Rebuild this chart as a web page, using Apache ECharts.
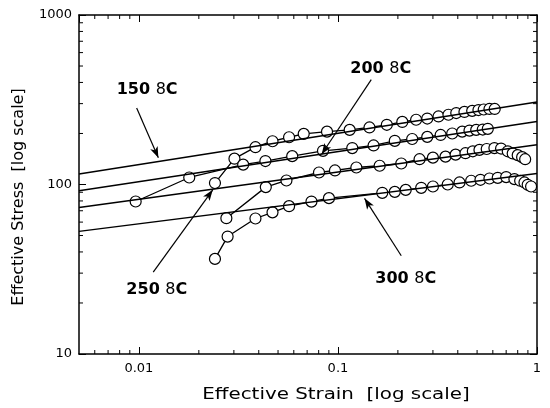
<!DOCTYPE html>
<html>
<head>
<meta charset="utf-8">
<script src="https://cdn.jsdelivr.net/npm/echarts@6/dist/echarts.min.js"></script>
<style>
  html, body { margin: 0; padding: 0; background: #fff; }
  #chart { width: 550px; height: 408px; }
</style>
</head>
<body>
<div id="chart"></div>
<script>
// measured curves, strain vs effective stress
const strain150 = [0.0241, 0.0302, 0.0385, 0.0469, 0.0568, 0.0673, 0.0881, 0.1145, 0.144, 0.176, 0.2105, 0.247, 0.281, 0.32, 0.359, 0.393, 0.432, 0.4725, 0.508, 0.54, 0.577, 0.613]
const stress150 = [102, 142, 166, 180, 190, 199, 205, 210, 217, 225, 234, 241, 245, 252, 258, 264, 268, 272, 275, 277, 279, 279]

const strain200 = [0.00963, 0.0179, 0.0334, 0.0432, 0.0589, 0.0841, 0.118, 0.151, 0.193, 0.236, 0.281, 0.328, 0.375, 0.421, 0.458, 0.495, 0.534, 0.566]
const stress200 = [79.4, 110, 131, 137.5, 147, 158, 164, 170, 181, 185.5, 191, 196, 200, 205, 208, 210, 211, 213]

const strain250 = [0.0275, 0.0434, 0.0551, 0.0803, 0.0966, 0.1237, 0.162, 0.208, 0.257, 0.3, 0.347, 0.39, 0.437, 0.476, 0.514, 0.559, 0.611, 0.66, 0.713, 0.755, 0.8, 0.842, 0.872]
const stress250 = [63.3, 96.5, 105.6, 117.7, 121, 126, 129, 133, 141, 144, 146, 150, 153, 157, 160, 162, 164, 163, 157, 152.5, 149, 145, 141]

const strain300 = [0.0241, 0.0279, 0.0385, 0.0469, 0.0568, 0.0736, 0.0901, 0.167, 0.193, 0.219, 0.262, 0.3, 0.356, 0.408, 0.467, 0.52, 0.577, 0.635, 0.7, 0.77, 0.823, 0.865, 0.898, 0.934]
const stress300 = [36.4, 49.3, 63, 68.5, 74.5, 79.3, 83.1, 89.3, 90.5, 93, 95.6, 97.3, 100, 102.8, 105.2, 106.6, 108.5, 109.5, 110.6, 107.6, 105.2, 102.8, 99.6, 97.3]

// fitted power-law lines (ends of the axis range)
const fitStrain = [0.005, 1]
const fit150 = [115.2, 306.7]
const fit200 = [91.8, 235.6]
const fit250 = [73.1, 171.6]
const fit300 = [52.9, 116.1]

// temperature labels and their arrows (data coords)
const labelNames = ['150', '200', '250', '300']
const labelPos = [[0.011, 363], [0.164, 483], [0.0123, 23.9], [0.219, 27.7]]
const arrowFrom = [[0.00974, 283], [0.147, 416], [0.0118, 30.4], [0.208, 38]]
const arrowTo = [[0.01252, 143.8], [0.0828, 150.8], [0.0235, 93], [0.136, 82.9]]

// minor ticks of the log axes
const xMinor = [0.006, 0.007, 0.008, 0.009, 0.02, 0.03, 0.04, 0.05, 0.06, 0.07, 0.08, 0.09, 0.2, 0.3, 0.4, 0.5, 0.6, 0.7, 0.8, 0.9]
const yMinor = [20, 30, 40, 50, 60, 70, 80, 90, 200, 300, 400, 500, 600, 700, 800, 900]

const zip = (a, b) => a.map((v, i) => [v, b[i]])

const font = 'DejaVu Sans'

function dataSeries(xs, ys) {
  return {
    type: 'line',
    data: zip(xs, ys),
    symbol: 'circle',
    symbolSize: 11,
    color: '#000',
    itemStyle: { color: '#fff', borderColor: '#000', borderWidth: 1.2 },
    lineStyle: { color: '#000', width: 1.3 },
    z: 2,
    silent: true,
    animation: false,
  }
}

function fitSeries(ys, i) {
  return {
    type: 'line',
    data: zip(fitStrain, ys),
    symbol: 'none',
    lineStyle: { color: '#000', width: 1.5 },
    z: 3,
    silent: true,
    animation: false,
    markLine: {
      silent: true,
      symbol: ['none', 'arrow'],
      symbolSize: [6, 11],
      label: { show: false },
      lineStyle: { color: '#000', width: 1.2, type: 'solid' },
      emphasis: { disabled: true },
      animation: false,
      data: [[{ coord: arrowFrom[i] }, { coord: arrowTo[i] }]],
    },
  }
}

const axisBase = {
  type: 'log',
  logBase: 10,
  axisLine: { lineStyle: { color: '#000', width: 1.5 } },
  axisTick: { inside: true, length: 7, lineStyle: { color: '#000', width: 1 } },
  splitLine: { show: false },
  minorTick: { show: false },
}

const options = {
  backgroundColor: '#fff',
  animation: false,
  grid: { left: 79, right: 13, top: 15, bottom: 54 },
  xAxis: [
    {
      ...axisBase,
      min: 0.005,
      max: 1,
      position: 'bottom',
      axisLabel: { color: '#000', fontFamily: font, fontSize: 13, margin: 8, showMinLabel: false, formatter: v => String(v) },
    },
    { ...axisBase, min: 0.005, max: 1, position: 'top', axisLabel: { show: false } },
  ],
  yAxis: [
    {
      ...axisBase,
      min: 10,
      max: 1000,
      position: 'left',
      axisLabel: { color: '#000', fontFamily: font, fontSize: 13, margin: 7, formatter: v => String(v) },
    },
    { ...axisBase, min: 10, max: 1000, position: 'right', axisLabel: { show: false } },
  ],
  series: [
    dataSeries(strain150, stress150),
    dataSeries(strain200, stress200),
    dataSeries(strain250, stress250),
    dataSeries(strain300, stress300),
    fitSeries(fit150, 0),
    fitSeries(fit200, 1),
    fitSeries(fit250, 2),
    fitSeries(fit300, 3),
  ],
}

const chart = echarts.init(document.getElementById('chart'), null, { renderer: 'canvas' })
chart.setOption(options)

const toPx = d => chart.convertToPixel({ xAxisIndex: 0, yAxisIndex: 0 }, d)
const topLeft = toPx([0.005, 1000])
const botRight = toPx([1, 10])
const minorLen = 4
const tickStyle = { stroke: '#000', lineWidth: 1 }

const graphics = []

// minor ticks on all four sides
xMinor.forEach(v => {
  const x = toPx([v, 100])[0]
  graphics.push({ type: 'line', silent: true, z: 10, shape: { x1: x, y1: botRight[1], x2: x, y2: botRight[1] - minorLen }, style: tickStyle })
  graphics.push({ type: 'line', silent: true, z: 10, shape: { x1: x, y1: topLeft[1], x2: x, y2: topLeft[1] + minorLen }, style: tickStyle })
})
yMinor.forEach(v => {
  const y = toPx([0.1, v])[1]
  graphics.push({ type: 'line', silent: true, z: 10, shape: { x1: topLeft[0], y1: y, x2: topLeft[0] + minorLen, y2: y }, style: tickStyle })
  graphics.push({ type: 'line', silent: true, z: 10, shape: { x1: botRight[0], y1: y, x2: botRight[0] - minorLen, y2: y }, style: tickStyle })
})

// temperature labels
labelNames.forEach((t, i) => {
  const p = toPx(labelPos[i])
  graphics.push({
    type: 'text',
    x: p[0],
    y: p[1],
    silent: true,
    z: 10,
    style: {
      text: '{b|' + t + ' }{d|8}{b|C}',
      align: 'center',
      verticalAlign: 'middle',
      rich: {
        b: { fontFamily: font, fontWeight: 'bold', fontSize: 16, fill: '#000' },
        d: { fontFamily: font, fontWeight: 'normal', fontSize: 16, fill: '#000' },
      },
    },
  })
})

// axis titles (x one stretched like the original)
graphics.push({
  type: 'text',
  x: 336,
  y: 395,
  scaleX: 1.24,
  silent: true,
  style: {
    text: 'Effective Strain  [log scale]',
    align: 'center',
    verticalAlign: 'middle',
    fontFamily: font,
    fontSize: 16,
    fill: '#000',
  },
})
graphics.push({
  type: 'text',
  x: 19,
  y: 197,
  rotation: Math.PI / 2,
  silent: true,
  style: {
    text: 'Effective Stress  [log scale]',
    align: 'center',
    verticalAlign: 'middle',
    fontFamily: font,
    fontSize: 16,
    fill: '#000',
  },
})

chart.setOption({ graphic: graphics })
</script>
</body>
</html>
